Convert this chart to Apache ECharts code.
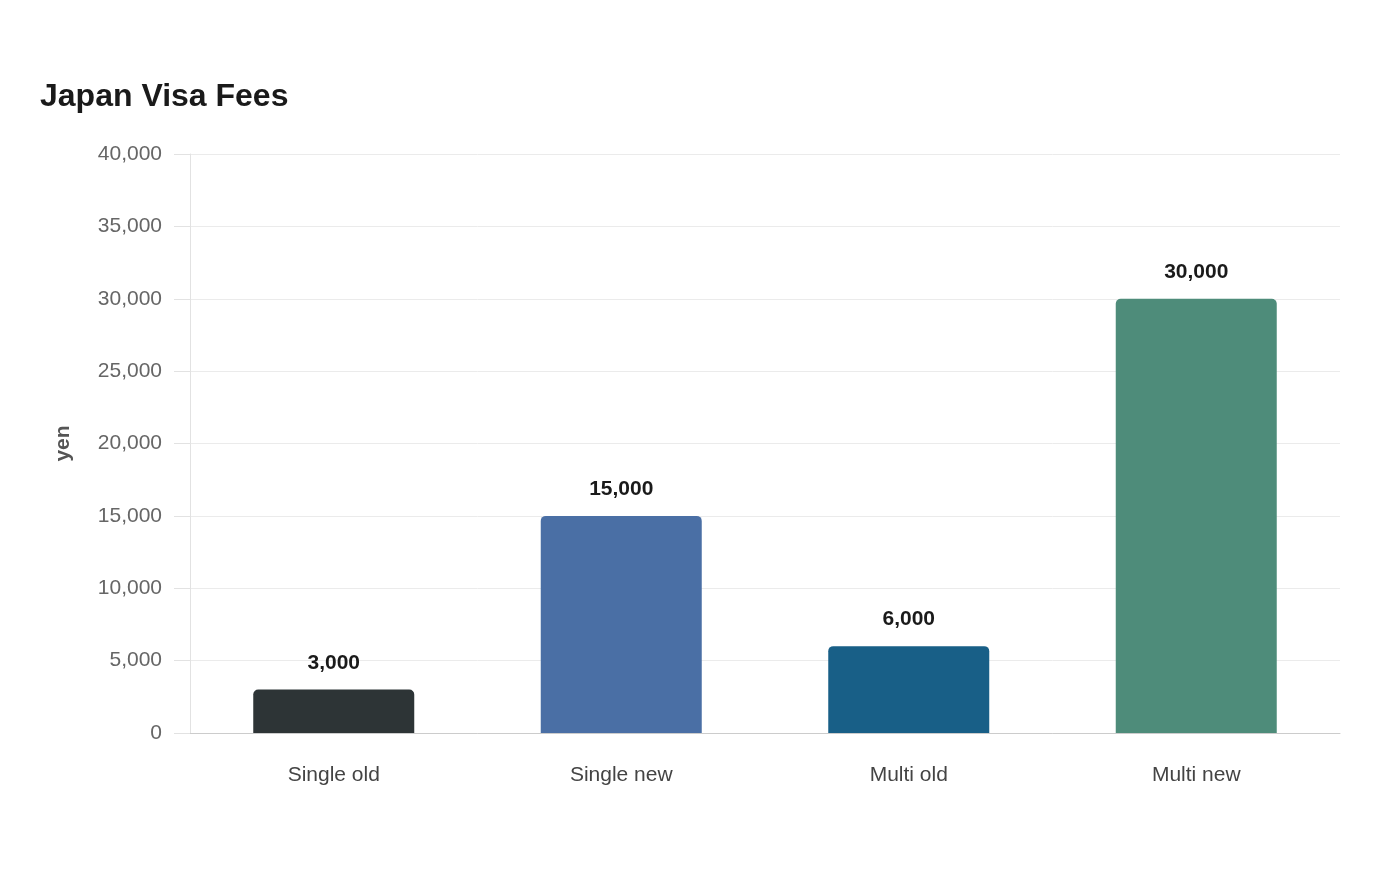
<!DOCTYPE html>
<html>
<head>
<meta charset="utf-8">
<script src="https://cdn.jsdelivr.net/npm/echarts@6/dist/echarts.min.js"></script>
<style>
  html, body { margin: 0; padding: 0; background: #fff; }
  #main { width: 1400px; height: 880px; }
</style>
</head>
<body>
<div id="main"></div>
<script>
const categories = ['Single old', 'Single new', 'Multi old', 'Multi new']
const fees = [3000, 15000, 6000, 30000]
const barColors = ['#2d3436', '#4a6fa5', '#185f87', '#4e8c7a']

const chart = echarts.init(document.getElementById('main'))
const font = '"Liberation Sans", Arial, sans-serif'

const option = {
  backgroundColor: '#fff',
  textStyle: { fontFamily: font },
  title: {
    text: 'Japan Visa Fees',
    left: 40,
    top: 81,
    padding: 0,
    textStyle: { fontSize: 32, fontWeight: 'bold', color: '#1a1a1a', fontFamily: font }
  },
  grid: { left: 190, right: 60, top: 154, bottom: 147, containLabel: false },
  xAxis: {
    type: 'category',
    data: categories,
    axisLine: { lineStyle: { color: '#cccccc', width: 1 } },
    axisTick: { show: false },
    axisLabel: { color: '#444', fontSize: 21, margin: 32, fontFamily: font }
  },
  yAxis: {
    type: 'value',
    min: 0,
    max: 40000,
    interval: 5000,
    name: 'yen',
    nameLocation: 'middle',
    nameGap: 116,
    nameTextStyle: { fontSize: 21, fontWeight: 'bold', color: '#555', fontFamily: font },
    axisLine: { show: true, lineStyle: { color: '#e2e2e2' } },
    axisTick: { show: true, length: 16, lineStyle: { color: '#e2e2e2' } },
    splitLine: { lineStyle: { color: '#ebebeb' } },
    axisLabel: {
      color: '#666',
      fontSize: 21,
      margin: 28,
      fontFamily: font,
      formatter: v => v.toLocaleString('en-US')
    }
  },
  series: [{
    type: 'bar',
    data: fees.map((v, i) => ({ value: v, itemStyle: { color: barColors[i] } })),
    barWidth: '56%',
    itemStyle: { borderRadius: [5, 5, 0, 0] },
    label: {
      show: true,
      position: 'top',
      distance: 16,
      fontSize: 21,
      fontWeight: 'bold',
      color: '#1a1a1a',
      fontFamily: font,
      formatter: p => p.value.toLocaleString('en-US')
    }
  }]
}

chart.setOption(option)
</script>
</body>
</html>
